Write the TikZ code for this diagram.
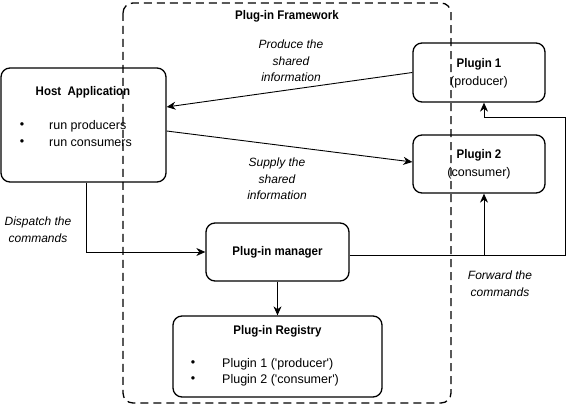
\documentclass[tikz,border=0pt]{standalone}
\usepackage{fontspec}
\setmainfont{Liberation Sans}[BoldFeatures={FakeStretch=0.92},BoldItalicFeatures={FakeStretch=0.92}]
\usetikzlibrary{arrows.meta}
\begin{document}
\begin{tikzpicture}[x=1pt,y=-1pt,
  box/.style={draw,line width=1.3pt,rounded corners=9pt,inner sep=0pt},
  lbl/.style={font=\fontsize{12}{16.5}\selectfont\itshape,align=center,inner sep=0pt},
  ttl/.style={font=\fontsize{12.5}{14}\selectfont\bfseries,inner sep=0pt},
  txt/.style={font=\fontsize{12.5}{14}\selectfont,inner sep=0pt},
  conn/.style={line width=0.9pt},
  arr/.style={conn,-{Stealth[length=9pt,width=8pt]}}]
\useasboundingbox (0,0) rectangle (566,406);
% framework
\draw[line width=1.3pt,dash pattern=on 8pt off 5pt,rounded corners=10pt] (123,3) rectangle (451,403);
\node[ttl] (fw) at (287,16) {Plug-in Framework};
% boxes
\node[box,minimum width=165pt,minimum height=114pt] (host) at (83.5,125) {};
\node[ttl] (hostt) at (83,92) {Host\ \ Application};
\node[txt] (hb1) at (22,126) {•};
\node[txt] (hb2) at (22,143) {•};
\node[txt,anchor=west] (ht1) at (49,126) {run producers};
\node[txt,anchor=west] (ht2) at (49,143) {run consumers};

\node[box,minimum width=132pt,minimum height=59pt] (p1) at (479,72.5) {};
\node[ttl] (p1t) at (479,64) {Plugin 1};
\node[txt] (p1s) at (479,82) {(producer)};

\node[box,minimum width=132pt,minimum height=58pt] (p2) at (479,164) {};
\node[ttl] (p2t) at (479,155) {Plugin 2};
\node[txt] (p2s) at (479,173) {(consumer)};

\node[box,minimum width=143pt,minimum height=58pt] (mgr) at (277.5,252) {};
\node[ttl] (mgrt) at (277.5,252) {Plug-in manager};

\node[box,minimum width=209pt,minimum height=81pt] (reg) at (277.5,356.5) {};
\node[ttl] (regt) at (277.5,331) {Plug-in Registry};
\node[txt] (rb1) at (193,364) {•};
\node[txt] (rb2) at (193,380) {•};
\node[txt,anchor=west] (rt1) at (222,364) {Plugin 1 (\textquotesingle producer\textquotesingle)};
\node[txt,anchor=west] (rt2) at (222,380) {Plugin 2 (\textquotesingle consumer\textquotesingle)};

% labels
\node[lbl] (l1) at (291,61) {Produce the\\shared\\information};
\node[lbl] (l2) at (277,179) {Supply the\\shared\\information};
\node[lbl] (l3) at (38,229.5) {Dispatch the\\commands};
\node[lbl] (l4) at (500,283.5) {Forward the\\commands};

% connectors
\draw[arr] (p1.west) -- ([yshift=18pt]host.east);
\draw[arr] ([yshift=-6pt]host.east) -- ([yshift=2pt]p2.west);
\draw[arr] ([xshift=2.5pt]host.south) |- (mgr.west);
\draw[arr] (mgr.south) -- (reg.north);
\coordinate (r1) at (565,255);
\coordinate (r2) at (565,117);
\coordinate (r3) at (484,117);
\coordinate (r4) at (484,255);
\draw[conn] ([yshift=-3pt]mgr.east) -- (r1) -- (r2) -- (r3);
\draw[arr] (r3) -- (r3 |- p1.south);
\draw[arr] (r4) -- (r4 |- p2.south);
\end{tikzpicture}
\end{document}
